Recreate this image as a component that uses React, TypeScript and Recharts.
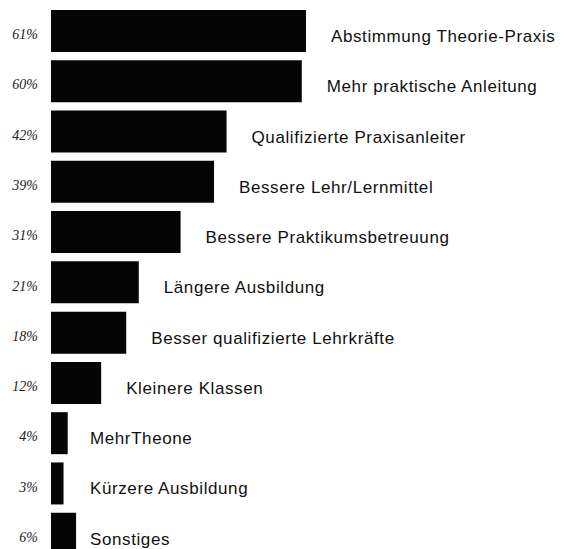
import React from "react";
import { BarChart, Bar, XAxis, YAxis, LabelList } from "recharts";

const categories = [
  "Abstimmung Theorie-Praxis",
  "Mehr praktische Anleitung",
  "Qualifizierte Praxisanleiter",
  "Bessere Lehr/Lernmittel",
  "Bessere Praktikumsbetreuung",
  "Längere Ausbildung",
  "Besser qualifizierte Lehrkräfte",
  "Kleinere Klassen",
  "MehrTheone",
  "Kürzere Ausbildung",
  "Sonstiges",
];

const percentages = [61, 60, 42, 39, 31, 21, 18, 12, 4, 3, 6];

const percentLabels = ["61%", "60%", "42%", "39%", "31%", "21%", "18%", "12%", "4%", "3%", "6%"];

const data = categories.map((name, i) => ({
  name,
  value: percentages[i],
  pct: percentLabels[i],
}));

const PctTick = (props: any) => {
  const { y, index } = props;
  return (
    <text
      x={38}
      y={y + 8}
      textAnchor="end"
      fontFamily="'Liberation Serif', 'Times New Roman', serif"
      fontStyle="italic"
      fontSize={14}
      fill="#222"
    >
      {percentLabels[index]}
    </text>
  );
};

const NameLabel = (props: any) => {
  const { x, y, width, height, value, index } = props;
  const end = x + width;
  const lx = percentages[index] < 10 ? 90 : end + 25;
  return (
    <text
      x={lx}
      y={y + height / 2 + 11}
      textAnchor="start"
      fontFamily="'Liberation Sans', Arial, sans-serif"
      fontSize={17}
      letterSpacing={0.6}
      fill="#111"
    >
      {value}
    </text>
  );
};

export default function App() {
  return (
    <div
      style={{
        position: "absolute",
        left: 0,
        top: 0,
        width: 569,
        height: 549,
        overflow: "hidden",
        background: "#fff",
      }}
    >
      <BarChart
        width={569}
        height={559}
        data={data}
        layout="vertical"
        margin={{ top: 6, right: 100, bottom: 0, left: 0 }}
        barCategoryGap={4}
      >
        <XAxis type="number" domain={[0, 100]} hide />
        <YAxis
          type="category"
          dataKey="name"
          width={51}
          axisLine={false}
          tickLine={false}
          tick={<PctTick />}
          interval={0}
        />
        <Bar dataKey="value" fill="#050505" isAnimationActive={false}>
          <LabelList dataKey="name" content={<NameLabel />} />
        </Bar>
      </BarChart>
    </div>
  );
}
